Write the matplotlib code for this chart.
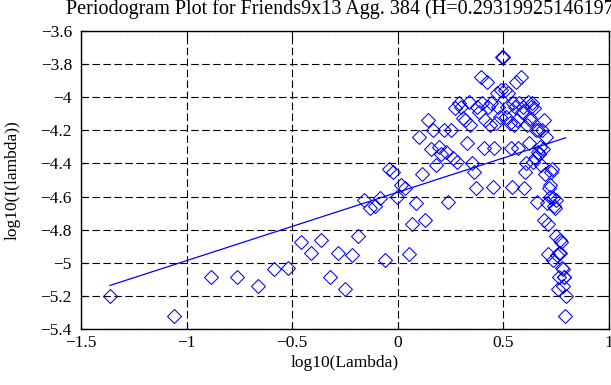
"""Periodogram plot: log10 of the periodogram against log10 of frequency,
with the least-squares line whose slope gives the Hurst estimate."""

import matplotlib
matplotlib.use("Agg")
import matplotlib.pyplot as plt

TITLE = "Periodogram Plot for Friends9x13 Agg. 384 (H=0.29319925146197)"
XLABEL = "log10(Lambda)"
YLABEL = "log10(I(lambda))"

# log10 of the Fourier frequencies (k = 1 .. 144)
log_lambda = [
    -1.363, -1.062, -0.886, -0.761, -0.664, -0.585, -0.518, -0.460, -0.409, -0.363,
    -0.322, -0.284, -0.249, -0.217, -0.187, -0.159, -0.133, -0.108, -0.084, -0.062,
    -0.041, -0.021, -0.002, 0.017, 0.035, 0.052, 0.068, 0.084, 0.099, 0.114,
    0.128, 0.142, 0.155, 0.168, 0.181, 0.193, 0.205, 0.217, 0.228, 0.239,
    0.250, 0.260, 0.270, 0.280, 0.290, 0.300, 0.309, 0.318, 0.327, 0.336,
    0.344, 0.353, 0.361, 0.369, 0.377, 0.385, 0.393, 0.400, 0.408, 0.415,
    0.422, 0.429, 0.436, 0.443, 0.450, 0.456, 0.463, 0.469, 0.476, 0.482,
    0.488, 0.494, 0.500, 0.506, 0.512, 0.518, 0.523, 0.529, 0.534, 0.540,
    0.545, 0.551, 0.556, 0.561, 0.566, 0.571, 0.576, 0.581, 0.586, 0.591,
    0.596, 0.601, 0.605, 0.610, 0.615, 0.619, 0.624, 0.628, 0.632, 0.637,
    0.641, 0.645, 0.650, 0.654, 0.658, 0.662, 0.666, 0.670, 0.674, 0.678,
    0.682, 0.686, 0.690, 0.694, 0.698, 0.701, 0.705, 0.709, 0.712, 0.716,
    0.720, 0.723, 0.727, 0.730, 0.734, 0.737, 0.741, 0.744, 0.747, 0.751,
    0.754, 0.757, 0.761, 0.764, 0.767, 0.770, 0.774, 0.777, 0.780, 0.783,
    0.786, 0.789, 0.792, 0.795,
]

# log10 of the periodogram at those frequencies
log_power = [
    -5.200, -5.319, -5.084, -5.087, -5.140, -5.035, -5.029, -4.874, -4.939, -4.864,
    -5.084, -4.939, -5.156, -4.951, -4.838, -4.620, -4.671, -4.657, -4.607, -4.983,
    -4.435, -4.450, -4.600, -4.530, -4.550, -4.947, -4.765, -4.637, -4.242, -4.464,
    -4.741, -4.137, -4.315, -4.198, -4.409, -4.300, -4.340, -4.200, -4.330, -4.630,
    -4.200, -4.370, -4.067, -4.389, -4.037, -4.057, -4.127, -4.137, -4.278, -4.027,
    -4.168, -4.400, -4.450, -4.550, -4.057, -4.087, -3.876, -4.037, -4.308, -4.137,
    -3.906, -4.057, -4.168, -4.037, -4.540, -4.308, -4.158, -3.976, -4.057, -4.120,
    -3.956, -3.755,
    -3.755, -3.956, -4.120, -4.057, -3.976, -4.158, -4.308, -4.540, -4.037, -4.168,
    -4.057, -3.906, -4.137, -4.308, -4.037, -3.876, -4.087, -4.057, -4.550, -4.450,
    -4.400, -4.168, -4.027, -4.278, -4.137, -4.127, -4.057, -4.037, -4.389, -4.067,
    -4.370, -4.200, -4.630, -4.330, -4.200, -4.340, -4.300, -4.409, -4.198, -4.315,
    -4.137, -4.741, -4.464, -4.242, -4.637, -4.765, -4.947, -4.550, -4.530, -4.600,
    -4.450, -4.435, -4.983, -4.607, -4.657, -4.671, -4.620, -4.838, -4.951, -5.156,
    -4.939, -5.084, -4.864, -4.939, -4.874, -5.029, -5.035, -5.140, -5.087, -5.084,
    -5.319, -5.200,
]

# least-squares fit line, end points
fit_x = [-1.363, 0.795]
fit_y = [-5.137, -4.245]

xticks = [-1.5, -1, -0.5, 0, 0.5, 1]
yticks = [-5.4, -5.2, -5, -4.8, -4.6, -4.4, -4.2, -4, -3.8, -3.6]


def fmt(v):
    return ("%g" % v).replace("-", "\u2212")


plt.rcParams["font.family"] = ["Liberation Serif", "DejaVu Serif"]
plt.rcParams["font.size"] = 12.5
plt.rcParams["lines.scale_dashes"] = False

fig = plt.figure(figsize=(6.11, 3.85), dpi=100)
ax = fig.add_axes([81 / 611, 1 - 329 / 385, 528 / 611, 298 / 385])

ax.plot(log_lambda, log_power, linestyle="none", marker="D", markersize=6.8,
        markerfacecolor="none", markeredgecolor="#0000ff", markeredgewidth=0.75,
        zorder=3)
ax.plot(fit_x, fit_y, color="#0000ff", linewidth=0.9, zorder=3)

ax.set_xlim(-1.5, 1)
ax.set_ylim(-5.4, -3.6)
ax.set_xticks(xticks)
ax.set_yticks(yticks)
ax.set_xticklabels([fmt(v) for v in xticks])
ax.set_yticklabels([fmt(v) for v in yticks])
ax.tick_params(direction="in", length=4, width=0.8, top=True, right=True,
               colors="black")
ax.tick_params(axis="x", pad=4.5)
ax.tick_params(axis="y", pad=6.5)
ax.grid(True, color="black", linewidth=0.8, linestyle=(0, (5.4, 2.5)), zorder=1)
for sp in ax.spines.values():
    sp.set_linewidth(1.0)

ax.set_xlabel(XLABEL, labelpad=3)
ax.set_ylabel(YLABEL, labelpad=14.5)

# the title is wider than the figure and runs off the right edge
fig.text(66 / 611, 1 - 14 / 385, TITLE, ha="left", va="baseline", fontsize=14.5)

fig.savefig("out.png", dpi=100)
